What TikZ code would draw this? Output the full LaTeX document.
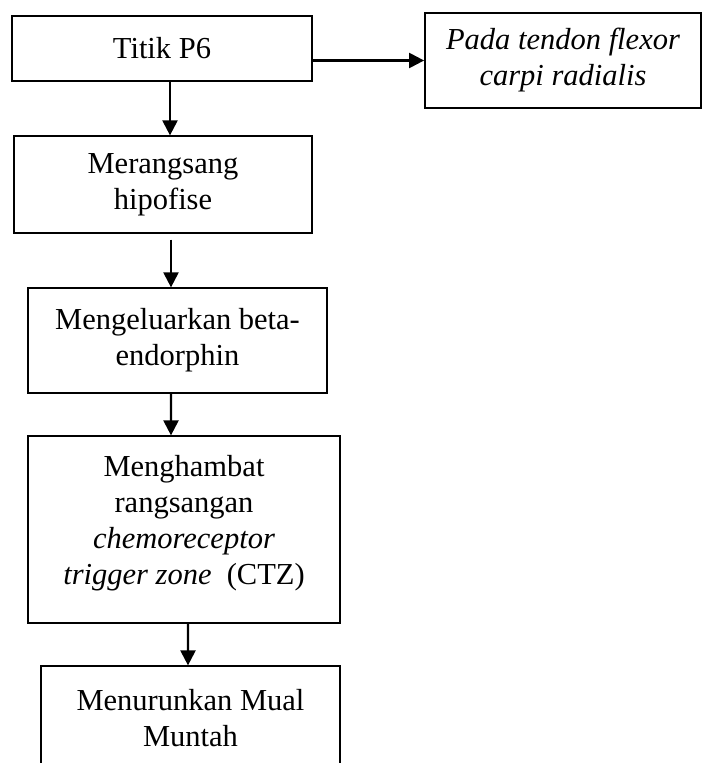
\documentclass[tikz,border=0pt]{standalone}
\usepackage{fontspec}
\setmainfont{Liberation Serif}
\usetikzlibrary{arrows.meta}

\begin{document}
\begin{tikzpicture}[
	box/.style = {draw, line width=0.5pt, align=center, inner sep=0pt,
		font=\fontsize{12.2pt}{14.4pt}\selectfont},
	arr/.style = {line width=0.9pt, -{Triangle[width=6pt,length=6pt]}}
]
	\useasboundingbox (0,0) rectangle (280.8pt,-305.2pt);
	% boxes
	\node[box, minimum width=120pt, minimum height=26pt] (titik) at (64.8pt,-19.4pt) {Titik P6};
	\node[box, line width=0.7pt, minimum width=110.4pt, minimum height=38pt, font=\fontsize{12.2pt}{14.4pt}\selectfont\itshape]
		(tendon) at (225.2pt,-24.2pt) {Pada tendon flexor\\carpi radialis};
	\node[box, minimum width=119.2pt, minimum height=38.8pt] (hipofise) at (65.2pt,-73.8pt) {Merangsang\\hipofise};
	\node[box, minimum width=119.6pt, minimum height=42pt] (endorphin) at (71pt,-136.2pt) {Mengeluarkan beta-\\endorphin};
	\node[box, minimum width=124.8pt, minimum height=74.8pt] (ctz) at (73.6pt,-211.8pt)
		{Menghambat\\rangsangan\\\textit{chemoreceptor}\\\textit{trigger zone}\ \ (CTZ)\rule[-8pt]{0pt}{0pt}};
	\node[box, minimum width=119.6pt, minimum height=41.6pt] (mual) at (76.2pt,-287.2pt) {Menurunkan Mual\\Muntah};
	% arrows
	\draw[arr] (tendon.west -| titik.east) -- (tendon.west);
	\draw[arr] ([xshift=3.2pt]titik.south) -- ([xshift=2.8pt]hipofise.north);
	\draw[arr, shorten <=2.4pt] ([xshift=3.2pt]hipofise.south) -- ([xshift=-2.6pt]endorphin.north);
	\draw[arr] ([xshift=-2.6pt]endorphin.south) -- ([xshift=-5.2pt]ctz.north);
	\draw[arr] ([xshift=1.6pt]ctz.south) -- ([xshift=-1pt]mual.north);
\end{tikzpicture}
\end{document}
